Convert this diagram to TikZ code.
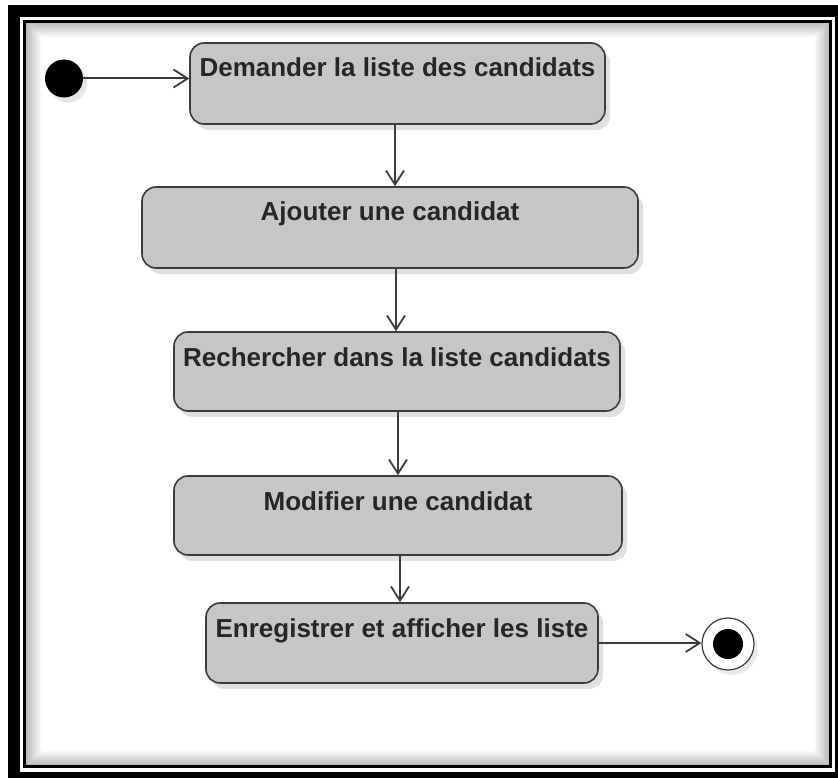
\documentclass[tikz,border=0pt]{standalone}
\usepackage{fontspec}
\setmainfont{Liberation Sans}
\usepackage{tikz}
\usetikzlibrary{positioning}
\usetikzlibrary{arrows,arrows.meta}
\usetikzlibrary{shadows}
\usetikzlibrary{calc}

\definecolor{aktiv}{HTML}{C6C6C6}
\definecolor{rand}{HTML}{3C3C3C}
\definecolor{schrift}{HTML}{262626}

\tikzset{
    aktion/.style={draw=rand, line width=1.6pt, fill=aktiv, rounded corners=14pt,
        inner sep=0pt, text height=34pt, text=schrift,
        font=\fontsize{26}{30}\selectfont\bfseries,
        drop shadow={shadow xshift=5pt, shadow yshift=-6pt, opacity=0.12, fill=black}},
    fluss/.style={draw=rand, line width=2pt, -{Straight Barb[length=14pt, width=18pt, line width=1.8pt]}},
}

\begin{document}
\begin{tikzpicture}[x=1pt, y=-1pt]
    \useasboundingbox (0,0) rectangle (838,778);

    % Rahmen
    \fill[black] (8,5) rectangle (838,778);
    \fill[white] (20,17) rectangle (835,772);
    \draw[black, line width=3pt] (24.5,21.5) rectangle (830.5,766.5);
    \foreach \i [evaluate=\i as \o using 0.30-0.035*\i] in {1,...,8}
        \draw[black, opacity=\o, line width=2pt] ($(24.5,21.5)+(\i*2,\i*2)$) rectangle ($(830.5,766.5)-(\i*2,\i*2)$);

    % Aktionen
    \node[aktion, minimum width=415pt, text depth=47pt] (demander) at (397.5,83.5) {Demander la liste des candidats};
    \node[aktion, minimum width=496pt, text depth=47pt] (ajouter) at (390,227.5) {Ajouter une candidat};
    \node[aktion, minimum width=446pt, text depth=45pt] (rechercher) at (397,371.5) {Rechercher dans la liste candidats};
    \node[aktion, minimum width=448pt, text depth=45pt] (modifier) at (398,515.5) {Modifier une candidat};
    \node[aktion, minimum width=392pt, text depth=46pt] (enregistrer) at (402,643) {Enregistrer et afficher les liste};

    % Start und Ende
    \node[circle, fill=black, minimum size=38pt, inner sep=0pt,
        drop shadow={shadow xshift=4pt, shadow yshift=-5pt, opacity=0.10, fill=black}] (start) at (64,78.5) {};
    \node[circle, draw=rand, line width=1.2pt, fill=white, minimum size=52pt, inner sep=0pt,
        drop shadow={shadow xshift=4pt, shadow yshift=-5pt, opacity=0.08, fill=black}] (ende) at (728,644) {};
    \node[circle, fill=black, minimum size=30pt, inner sep=0pt] (endepunkt) at (ende) {};

    \draw[fluss] (start) -- (start -| demander.west);
    \draw[fluss] ([xshift=-2.5pt]demander.south) -- ([xshift=-2.5pt]demander.south |- ajouter.north);
    \draw[fluss] ([xshift=6pt]ajouter.south) -- ([xshift=6pt]ajouter.south |- rechercher.north);
    \draw[fluss] ([xshift=1pt]rechercher.south) -- ([xshift=1pt]rechercher.south |- modifier.north);
    \draw[fluss] ([xshift=2pt]modifier.south) -- ([xshift=2pt]modifier.south |- enregistrer.north);
    \draw[fluss] (enregistrer.east) -- (enregistrer.east -| ende.west);
\end{tikzpicture}
\end{document}
